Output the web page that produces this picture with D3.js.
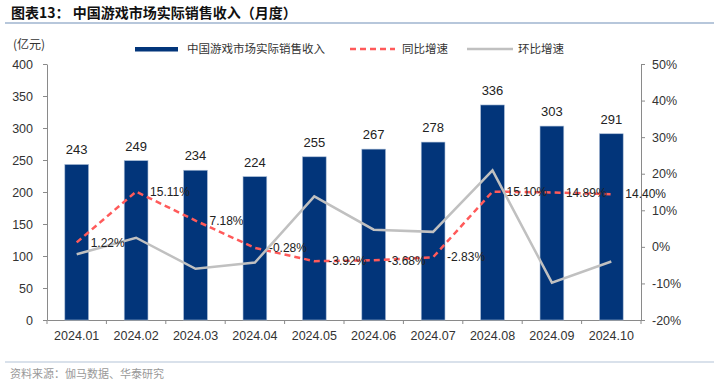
<!DOCTYPE html>
<html>
<head>
<meta charset="utf-8">
<script src="https://cdn.jsdelivr.net/npm/d3@7"></script>
<style>
  body { margin: 0; background: #fff; }
  text { font-family: "Liberation Sans", Arial, sans-serif; }
  .cjk { font-family: "Noto Sans CJK SC", sans-serif; }
</style>
</head>
<body>
<div id="chart"></div>
<script>
// datos
const months = ["2024.01", "2024.02", "2024.03", "2024.04", "2024.05", "2024.06", "2024.07", "2024.08", "2024.09", "2024.10"];
const revenue = [243, 249, 234, 224, 255, 267, 278, 336, 303, 291];
const yoy = [1.22, 15.11, 7.18, -0.28, -3.92, -3.68, -2.83, 15.10, 14.89, 14.40];
const mom = [-2.0, 2.5, -6.0, -4.3, 13.8, 4.7, 4.1, 20.9, -9.8, -4.0];
const leftTicks = [0, 50, 100, 150, 200, 250, 300, 350, 400];
const rightTicks = [-20, -10, 0, 10, 20, 30, 40, 50];

const W = 719, H = 386;
const PLOT = { left: 47, right: 641, top: 64, bottom: 320 };

const svg = d3.select("#chart").append("svg")
    .attr("width", W)
    .attr("height", H);

// titulo
svg.append("text")
    .attr("class", "cjk")
    .attr("x", 11).attr("y", 18)
    .attr("font-size", 14).attr("font-weight", "bold").attr("fill", "#111")
    .text("图表13：  中国游戏市场实际销售收入（月度）");

svg.append("line")
    .attr("x1", 5).attr("x2", 714).attr("y1", 23).attr("y2", 23)
    .attr("stroke", "#9fb4cf").attr("stroke-width", 1.5);

svg.append("text")
    .attr("class", "cjk")
    .attr("x", 13).attr("y", 49)
    .attr("font-size", 12).attr("fill", "#333")
    .text("(亿元)");

const x = d3.scaleBand()
    .domain(months)
    .range([PLOT.left, PLOT.right])
    .paddingInner(0.6)
    .paddingOuter(0.3);

const y = d3.scaleLinear()
    .domain([0, 400])
    .range([PLOT.bottom, PLOT.top]);

const y2 = d3.scaleLinear()
    .domain([-20, 50])
    .range([PLOT.bottom, PLOT.top]);

const cx = d => x(d) + x.bandwidth() / 2;

// ejes
const axisLeft = svg.append("g")
    .attr("transform", `translate(${PLOT.left},0)`)
    .call(d3.axisLeft(y).tickValues(leftTicks).tickSize(4).tickSizeOuter(0).tickPadding(10));

const axisRight = svg.append("g")
    .attr("transform", `translate(${PLOT.right},0)`)
    .call(d3.axisRight(y2).tickValues(rightTicks).tickSize(4).tickSizeOuter(0).tickPadding(7)
        .tickFormat(d => d + "%"));

const axisBottom = svg.append("g")
    .attr("transform", `translate(0,${PLOT.bottom})`)
    .call(d3.axisBottom(x).tickSize(0).tickPadding(11));

// marcas entre categorias
const step = x.step();
axisBottom.selectAll(".sep")
    .data(d3.range(months.length + 1))
    .enter().append("line")
    .attr("class", "sep")
    .attr("x1", i => PLOT.left + i * step)
    .attr("x2", i => PLOT.left + i * step)
    .attr("y1", 0).attr("y2", 4)
    .attr("stroke", "#8a8a8a");

[axisLeft, axisRight, axisBottom].forEach(a => {
    a.selectAll("path.domain").attr("stroke", "#8a8a8a");
    a.selectAll(".tick line").attr("stroke", "#8a8a8a");
    a.selectAll("text")
        .attr("font-size", 12.5)
        .attr("fill", "#333")
        .style("font-family", "'Liberation Sans', Arial, sans-serif");
});

// barras
svg.append("g")
    .selectAll("rect")
    .data(revenue)
    .enter().append("rect")
    .attr("x", (d, i) => x(months[i]))
    .attr("y", d => y(d))
    .attr("width", x.bandwidth())
    .attr("height", d => y(0) - y(d))
    .attr("fill", "#02357a")
    .attr("stroke", "#a9bcd6")
    .attr("stroke-width", 0.6);

svg.append("g")
    .selectAll("text")
    .data(revenue)
    .enter().append("text")
    .attr("x", (d, i) => cx(months[i]))
    .attr("y", d => y(d) - 10)
    .attr("text-anchor", "middle")
    .attr("font-size", 13)
    .attr("fill", "#222")
    .text(d => d);

// lineas
const lineYoy = d3.line()
    .x((d, i) => cx(months[i]))
    .y(d => y2(d));

svg.append("path")
    .datum(yoy)
    .attr("d", lineYoy)
    .attr("fill", "none")
    .attr("stroke", "#ff5a5a")
    .attr("stroke-width", 2.5)
    .attr("stroke-dasharray", "6,4");

svg.append("path")
    .datum(mom)
    .attr("d", lineYoy)
    .attr("fill", "none")
    .attr("stroke", "#c0c0c0")
    .attr("stroke-width", 2.5);

svg.append("g")
    .selectAll("text")
    .data(yoy)
    .enter().append("text")
    .attr("x", (d, i) => cx(months[i]) + 14)
    .attr("y", d => y2(d))
    .attr("dy", "0.35em")
    .attr("font-size", 12)
    .attr("fill", "#222")
    .text(d => d.toFixed(2) + "%");

// leyenda
const legend = svg.append("g");
legend.append("rect")
    .attr("x", 135).attr("y", 47).attr("width", 43).attr("height", 4.5)
    .attr("fill", "#02357a");
legend.append("text")
    .attr("class", "cjk")
    .attr("x", 187).attr("y", 53)
    .attr("font-size", 11.5).attr("fill", "#333")
    .text("中国游戏市场实际销售收入");
legend.append("line")
    .attr("x1", 350).attr("x2", 395).attr("y1", 49).attr("y2", 49)
    .attr("stroke", "#ff5a5a").attr("stroke-width", 2.5).attr("stroke-dasharray", "6,4");
legend.append("text")
    .attr("class", "cjk")
    .attr("x", 402).attr("y", 53)
    .attr("font-size", 11.5).attr("fill", "#333")
    .text("同比增速");
legend.append("line")
    .attr("x1", 467).attr("x2", 513).attr("y1", 49).attr("y2", 49)
    .attr("stroke", "#c0c0c0").attr("stroke-width", 2.5);
legend.append("text")
    .attr("class", "cjk")
    .attr("x", 518).attr("y", 53)
    .attr("font-size", 11.5).attr("fill", "#333")
    .text("环比增速");

// fuente
svg.append("line")
    .attr("x1", 5).attr("x2", 714).attr("y1", 362).attr("y2", 362)
    .attr("stroke", "#b4c4d8").attr("stroke-width", 1.2);
svg.append("text")
    .attr("class", "cjk")
    .attr("x", 10).attr("y", 378)
    .attr("font-size", 11).attr("fill", "#999")
    .text("资料来源：伽马数据、华泰研究");
</script>
</body>
</html>
